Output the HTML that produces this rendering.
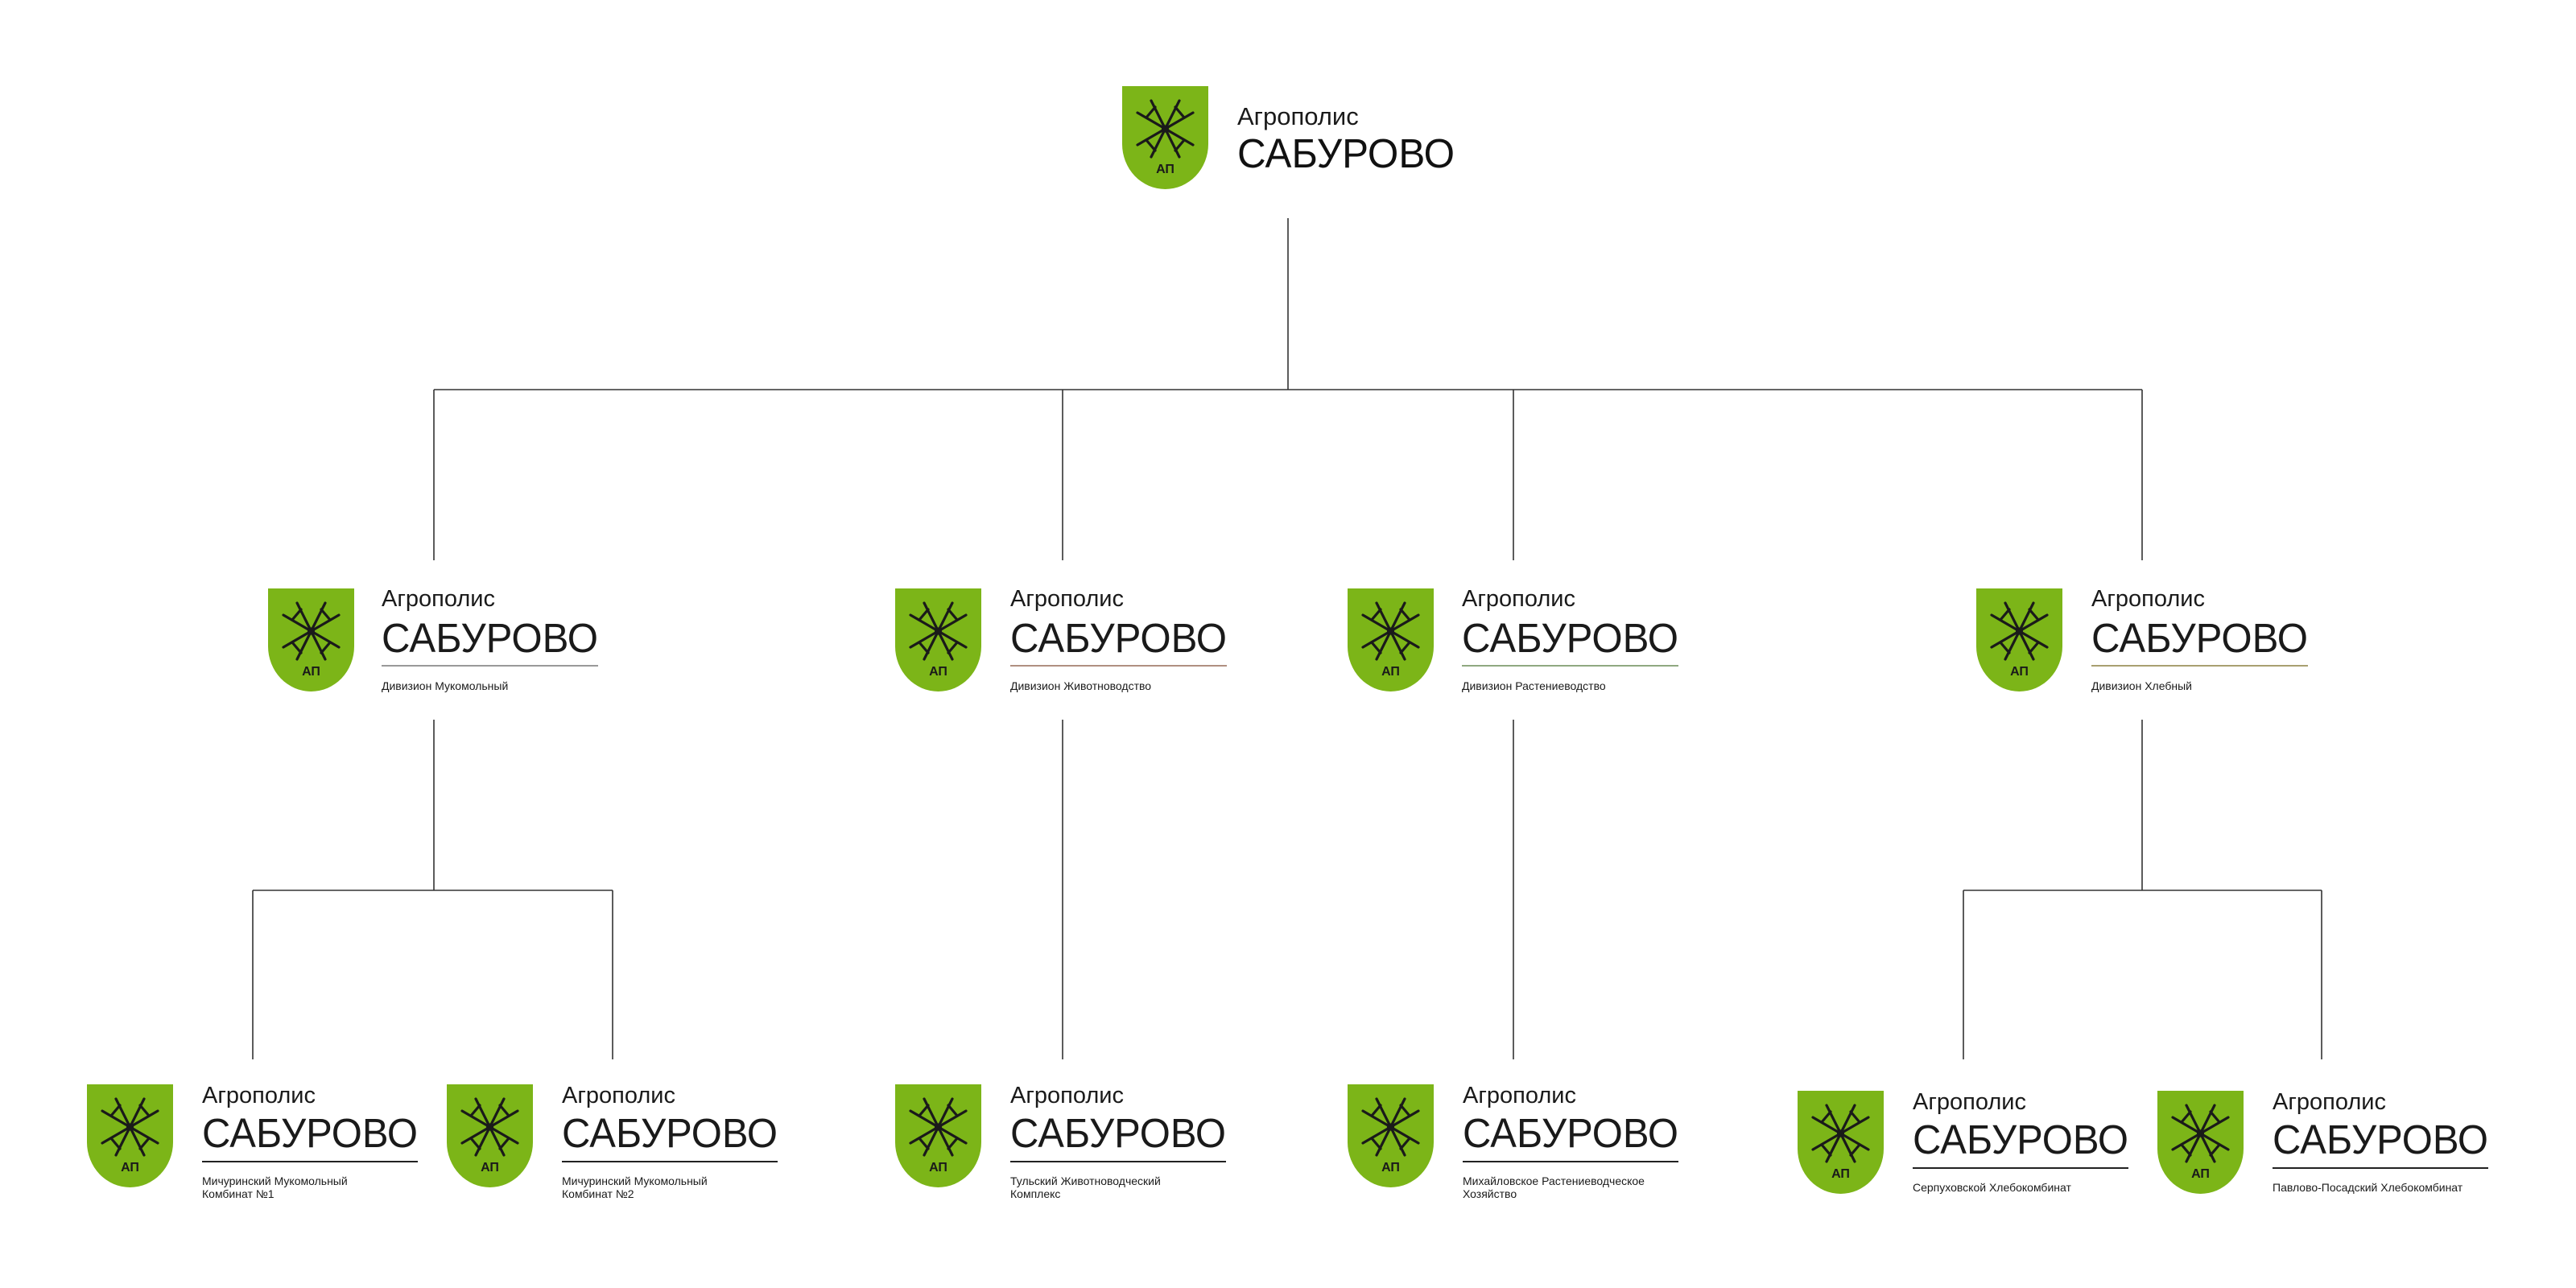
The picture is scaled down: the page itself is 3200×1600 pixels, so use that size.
<!DOCTYPE html>
<html><head><meta charset="utf-8"><style>
html,body{margin:0;padding:0;background:#fff;}
svg{display:block}
</style></head><body>
<svg width="3200" height="1600" viewBox="0 0 3200 1600" xmlns="http://www.w3.org/2000/svg" font-family="Liberation Sans, DejaVu Sans, sans-serif">
<defs>
<g id="sh">
<path d="M0,0 H107 V72 A53.5,56 0 0 1 0,72 Z" fill="#7cb518"/>
<g stroke="#1a1a1a" stroke-width="3.2" fill="none" stroke-linecap="round">
<line x1="19" y1="33" x2="88" y2="73"/>
<line x1="19" y1="73" x2="88" y2="33"/>
<line x1="36" y1="18" x2="71" y2="88"/>
<line x1="71" y1="18" x2="36" y2="88"/>
<path d="M30,39 L41,26 M77,39 L66,26 M30,67 L41,80 M77,67 L66,80"/>
<circle cx="53.5" cy="53" r="3"/>
</g>
<text x="53.5" y="108" font-size="16" font-weight="bold" text-anchor="middle" fill="#1a1a1a">АП</text>
</g>
</defs>
<g stroke="#333" stroke-width="1.6" fill="none">
<line x1="1600" y1="271" x2="1600" y2="484"/>
<line x1="539" y1="484" x2="2661" y2="484"/>
<line x1="539" y1="484" x2="539" y2="696"/>
<line x1="1320" y1="484" x2="1320" y2="696"/>
<line x1="1880" y1="484" x2="1880" y2="696"/>
<line x1="2661" y1="484" x2="2661" y2="696"/>
<line x1="539" y1="894" x2="539" y2="1106"/>
<line x1="2661" y1="894" x2="2661" y2="1106"/>
<line x1="1320" y1="894" x2="1320" y2="1316"/>
<line x1="1880" y1="894" x2="1880" y2="1316"/>
<line x1="314" y1="1106" x2="761" y2="1106"/>
<line x1="314" y1="1106" x2="314" y2="1316"/>
<line x1="761" y1="1106" x2="761" y2="1316"/>
<line x1="2439" y1="1106" x2="2884" y2="1106"/>
<line x1="2439" y1="1106" x2="2439" y2="1316"/>
<line x1="2884" y1="1106" x2="2884" y2="1316"/>
</g>
<!-- top -->
<use href="#sh" x="1394" y="107"/>
<text x="1537" y="155" font-size="31" fill="#1a1a1a">Агрополис</text>
<text x="1537" y="208" font-size="51" fill="#111" textLength="270" lengthAdjust="spacingAndGlyphs">САБУРОВО</text>
<!-- divisions -->
<g fill="#1a1a1a">
<use href="#sh" x="333" y="731"/>
<text x="474" y="753" font-size="29">Агрополис</text>
<text x="474" y="810" font-size="51" textLength="269" lengthAdjust="spacingAndGlyphs">САБУРОВО</text>
<line x1="474" y1="827" x2="743" y2="827" stroke="#999" stroke-width="2"/>
<text x="474" y="857" font-size="14">Дивизион Мукомольный</text>

<use href="#sh" x="1112" y="731"/>
<text x="1255" y="753" font-size="29">Агрополис</text>
<text x="1255" y="810" font-size="51" textLength="269" lengthAdjust="spacingAndGlyphs">САБУРОВО</text>
<line x1="1255" y1="827" x2="1524" y2="827" stroke="#b09080" stroke-width="2"/>
<text x="1255" y="857" font-size="14">Дивизион Животноводство</text>

<use href="#sh" x="1674" y="731"/>
<text x="1816" y="753" font-size="29">Агрополис</text>
<text x="1816" y="810" font-size="51" textLength="269" lengthAdjust="spacingAndGlyphs">САБУРОВО</text>
<line x1="1816" y1="827" x2="2085" y2="827" stroke="#90a880" stroke-width="2"/>
<text x="1816" y="857" font-size="14">Дивизион Растениеводство</text>

<use href="#sh" x="2455" y="731"/>
<text x="2598" y="753" font-size="29">Агрополис</text>
<text x="2598" y="810" font-size="51" textLength="269" lengthAdjust="spacingAndGlyphs">САБУРОВО</text>
<line x1="2598" y1="827" x2="2867" y2="827" stroke="#a8a070" stroke-width="2"/>
<text x="2598" y="857" font-size="14">Дивизион Хлебный</text>
</g>
<!-- leaves -->
<g fill="#1a1a1a">
<use href="#sh" x="108" y="1347"/>
<text x="251" y="1370" font-size="29">Агрополис</text>
<text x="251" y="1425" font-size="51" textLength="268" lengthAdjust="spacingAndGlyphs">САБУРОВО</text>
<line x1="251" y1="1443" x2="519" y2="1443" stroke="#222" stroke-width="2"/>
<text x="251" y="1472" font-size="14">Мичуринский Мукомольный</text>
<text x="251" y="1488" font-size="14">Комбинат №1</text>

<use href="#sh" x="555" y="1347"/>
<text x="698" y="1370" font-size="29">Агрополис</text>
<text x="698" y="1425" font-size="51" textLength="268" lengthAdjust="spacingAndGlyphs">САБУРОВО</text>
<line x1="698" y1="1443" x2="966" y2="1443" stroke="#222" stroke-width="2"/>
<text x="698" y="1472" font-size="14">Мичуринский Мукомольный</text>
<text x="698" y="1488" font-size="14">Комбинат №2</text>

<use href="#sh" x="1112" y="1347"/>
<text x="1255" y="1370" font-size="29">Агрополис</text>
<text x="1255" y="1425" font-size="51" textLength="268" lengthAdjust="spacingAndGlyphs">САБУРОВО</text>
<line x1="1255" y1="1443" x2="1523" y2="1443" stroke="#222" stroke-width="2"/>
<text x="1255" y="1472" font-size="14">Тульский Животноводческий</text>
<text x="1255" y="1488" font-size="14">Комплекс</text>

<use href="#sh" x="1674" y="1347"/>
<text x="1817" y="1370" font-size="29">Агрополис</text>
<text x="1817" y="1425" font-size="51" textLength="268" lengthAdjust="spacingAndGlyphs">САБУРОВО</text>
<line x1="1817" y1="1443" x2="2085" y2="1443" stroke="#222" stroke-width="2"/>
<text x="1817" y="1472" font-size="14">Михайловское Растениеводческое</text>
<text x="1817" y="1488" font-size="14">Хозяйство</text>

<use href="#sh" x="2233" y="1355"/>
<text x="2376" y="1378" font-size="29">Агрополис</text>
<text x="2376" y="1433" font-size="51" textLength="268" lengthAdjust="spacingAndGlyphs">САБУРОВО</text>
<line x1="2376" y1="1451" x2="2644" y2="1451" stroke="#222" stroke-width="2"/>
<text x="2376" y="1480" font-size="14">Серпуховской Хлебокомбинат</text>

<use href="#sh" x="2680" y="1355"/>
<text x="2823" y="1378" font-size="29">Агрополис</text>
<text x="2823" y="1433" font-size="51" textLength="268" lengthAdjust="spacingAndGlyphs">САБУРОВО</text>
<line x1="2823" y1="1451" x2="3091" y2="1451" stroke="#222" stroke-width="2"/>
<text x="2823" y="1480" font-size="14">Павлово-Посадский Хлебокомбинат</text>
</g>
</svg>
</body></html>
